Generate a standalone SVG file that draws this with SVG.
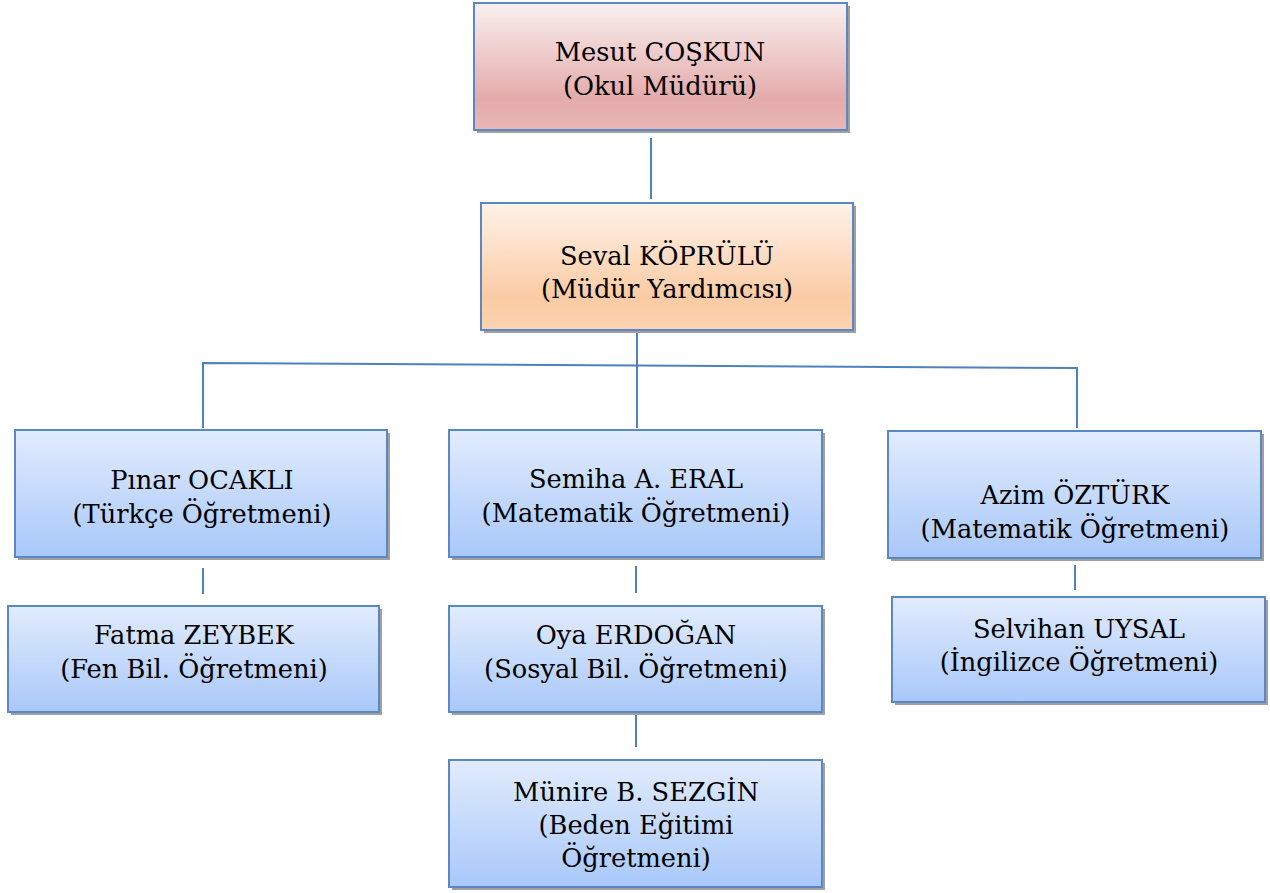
<svg xmlns="http://www.w3.org/2000/svg" width="1270" height="893" viewBox="0 0 1270 893">
<defs>
<linearGradient id="gPink" x1="0" y1="0" x2="0" y2="1">
<stop offset="0" stop-color="#faf0f0"/><stop offset="0.75" stop-color="#e4abab"/><stop offset="1" stop-color="#e8b6b6"/>
</linearGradient>
<linearGradient id="gPeach" x1="0" y1="0" x2="0" y2="1">
<stop offset="0" stop-color="#fef2e8"/><stop offset="0.75" stop-color="#fbcba4"/><stop offset="1" stop-color="#fcd3b2"/>
</linearGradient>
<linearGradient id="gBlue" x1="0" y1="0" x2="0" y2="1">
<stop offset="0" stop-color="#e2ecfd"/><stop offset="0.8" stop-color="#b4cffa"/><stop offset="1" stop-color="#a9c8fa"/>
</linearGradient>
<style>
.shadow{fill:#a0a0a0}
.box{stroke:#5b87c3;stroke-width:2}
.t{font-family:"DejaVu Serif","Liberation Serif",serif;font-size:25.7px;fill:#000;text-anchor:middle}
.c{stroke:#4f81bd;stroke-width:2;fill:none}
</style>
</defs>
<rect width="1270" height="893" fill="#fff"/>
<g id="connectors">
<line class="c" x1="651" y1="138" x2="651" y2="199"/>
<line class="c" x1="637" y1="332" x2="637" y2="428"/>
<polyline class="c" points="203,428 203,363 1077,368 1077,428"/>
<line class="c" x1="203" y1="568" x2="203" y2="594"/>
<line class="c" x1="636" y1="566" x2="636" y2="593"/>
<line class="c" x1="1075" y1="565" x2="1075" y2="590"/>
<line class="c" x1="636" y1="707" x2="636" y2="747"/>
</g>
<g id="n-mesut">
<rect class="shadow" x="477" y="6" width="373" height="127"/>
<rect class="box" x="474" y="3" width="373" height="127" fill="url(#gPink)"/>
<text class="t" x="660" y="61">Mesut COŞKUN</text>
<text class="t" x="660" y="95">(Okul Müdürü)</text>
</g>
<g id="n-seval">
<rect class="shadow" x="484" y="206" width="372" height="127"/>
<rect class="box" x="481" y="203" width="372" height="127" fill="url(#gPeach)"/>
<text class="t" x="667" y="265">Seval KÖPRÜLÜ</text>
<text class="t" x="667" y="298">(Müdür Yardımcısı)</text>
</g>
<g id="n-pinar">
<rect class="shadow" x="18" y="433" width="372" height="127"/>
<rect class="box" x="15" y="430" width="372" height="127" fill="url(#gBlue)"/>
<text class="t" x="202" y="489">Pınar OCAKLI</text>
<text class="t" x="202" y="523">(Türkçe Öğretmeni)</text>
</g>
<g id="n-semiha">
<rect class="shadow" x="452" y="433" width="373" height="127"/>
<rect class="box" x="449" y="430" width="373" height="127" fill="url(#gBlue)"/>
<text class="t" x="636" y="488">Semiha A. ERAL</text>
<text class="t" x="636" y="522">(Matematik Öğretmeni)</text>
</g>
<g id="n-azim">
<rect class="shadow" x="891" y="434" width="373" height="127"/>
<rect class="box" x="888" y="431" width="373" height="127" fill="url(#gBlue)"/>
<text class="t" x="1075" y="504">Azim ÖZTÜRK</text>
<text class="t" x="1075" y="538">(Matematik Öğretmeni)</text>
</g>
<g id="n-fatma">
<rect class="shadow" x="11" y="609" width="371" height="106"/>
<rect class="box" x="8" y="606" width="371" height="106" fill="url(#gBlue)"/>
<text class="t" x="194" y="644">Fatma ZEYBEK</text>
<text class="t" x="194" y="678">(Fen Bil. Öğretmeni)</text>
</g>
<g id="n-oya">
<rect class="shadow" x="452" y="609" width="373" height="106"/>
<rect class="box" x="449" y="606" width="373" height="106" fill="url(#gBlue)"/>
<text class="t" x="636" y="644">Oya ERDOĞAN</text>
<text class="t" x="636" y="678">(Sosyal Bil. Öğretmeni)</text>
</g>
<g id="n-selvihan">
<rect class="shadow" x="895" y="600" width="373" height="105"/>
<rect class="box" x="892" y="597" width="373" height="105" fill="url(#gBlue)"/>
<text class="t" x="1079" y="638">Selvihan UYSAL</text>
<text class="t" x="1079" y="671">(İngilizce Öğretmeni)</text>
</g>
<g id="n-munire">
<rect class="shadow" x="452" y="763" width="373" height="127"/>
<rect class="box" x="449" y="760" width="373" height="127" fill="url(#gBlue)"/>
<text class="t" x="636" y="801">Münire B. SEZGİN</text>
<text class="t" x="636" y="834">(Beden Eğitimi</text>
<text class="t" x="636" y="867">Öğretmeni)</text>
</g>
</svg>
